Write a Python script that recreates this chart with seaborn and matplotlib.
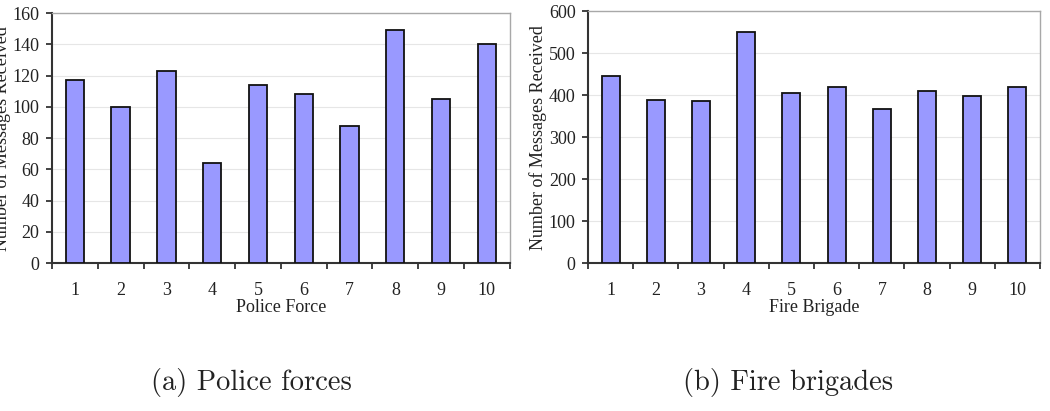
import numpy as np
import pandas as pd
import matplotlib
matplotlib.use("Agg")
import matplotlib.pyplot as plt
import seaborn as sns

# данные
units = [str(i) for i in range(1, 11)]
police_msgs = [117, 100, 123, 64, 114, 108, 88, 149, 105, 140]
fire_msgs = [445, 388, 387, 551, 404, 420, 368, 409, 398, 419]

police_ticks = [0, 20, 40, 60, 80, 100, 120, 140, 160]
fire_ticks = [0, 100, 200, 300, 400, 500, 600]

sns.set_theme(style="white")
plt.rcParams['font.family'] = ['Liberation Serif', 'DejaVu Serif']

fig = plt.figure(figsize=(10.5, 4.11), dpi=100)
ax1 = fig.add_axes([0.0495, 0.360, 0.436, 0.608])
ax2 = fig.add_axes([0.560, 0.360, 0.4305, 0.613])

panels = [
    (ax1, police_msgs, police_ticks, "Police Force", "(a) Police forces", 0.239),
    (ax2, fire_msgs, fire_ticks, "Fire Brigade", "(b) Fire brigades", 0.751),
]

for ax, vals, yt, xlab, cap, cx in panels:
    df = pd.DataFrame({"unit": units, "msgs": vals})
    sns.barplot(data=df, x="unit", y="msgs", color="#9999ff", saturation=1,
                edgecolor="#111111", linewidth=1.3, width=0.4, ax=ax, zorder=3)
    ax.set_xlim(-0.5, len(units) - 0.5)
    ax.set_ylim(yt[0], yt[-1])
    ax.set_yticks(yt)
    for y in yt[1:-1]:
        ax.axhline(y, color="#e6e6e6", linewidth=0.8, zorder=1)

    # деления между категориями
    ax.set_xticks(np.arange(-0.5, len(units)), minor=True)
    ax.tick_params(axis="x", which="major", length=0, pad=13.5, labelsize=13,
                   colors="#222222")
    ax.tick_params(axis="x", which="minor", length=4, width=1.3,
                   direction="out", color="#333333", bottom=True)
    ax.tick_params(axis="y", length=4, width=1.2, direction="out", left=True,
                   pad=5, labelsize=13, colors="#222222")

    ax.set_xlabel(xlab, fontsize=13, labelpad=0, color="#222222")
    ax.set_ylabel("Number of Messages Received", fontsize=13, labelpad=1,
                  color="#222222")

    for side in ["left", "bottom"]:
        ax.spines[side].set_color("#333333")
        ax.spines[side].set_linewidth(1.5)
    for side in ["top", "right"]:
        ax.spines[side].set_color("#a8a8a8")
        ax.spines[side].set_linewidth(1.0)

    fig.text(cx, 0.07, cap, ha="center", va="center", fontsize=20.5,
             family=["cmr10", "DejaVu Serif"], color="#222222")

fig.savefig("out.png", dpi=100)
